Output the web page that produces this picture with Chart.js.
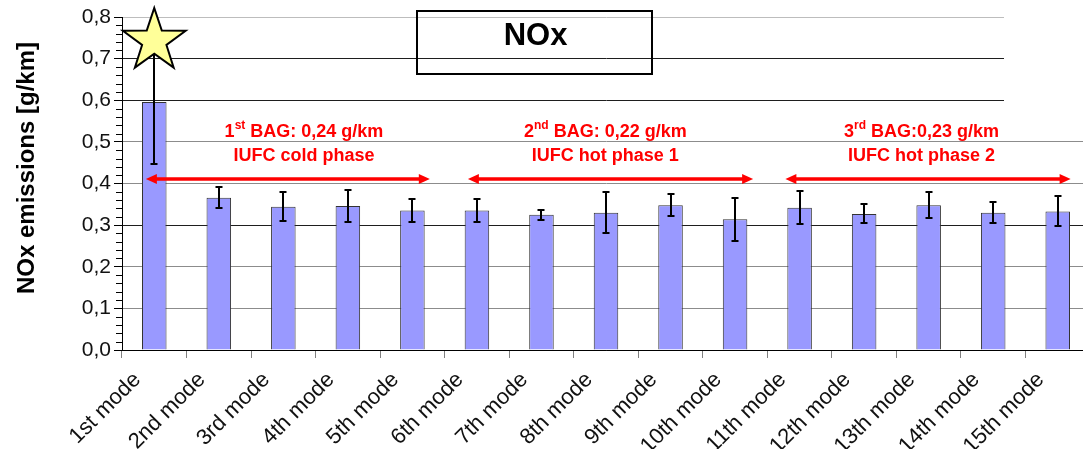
<!DOCTYPE html>
<html>
<head>
<meta charset="utf-8">
<script src="https://cdn.jsdelivr.net/npm/chart.js@4/dist/chart.umd.min.js"></script>
<style>
html,body{margin:0;padding:0;background:#fff;overflow:hidden;}
canvas{display:block;}
</style>
</head>
<body>
<canvas id="c" width="1091" height="449"></canvas>
<script>
// ---- data ----
const categories = ["1st mode","2nd mode","3rd mode","4th mode","5th mode","6th mode","7th mode","8th mode",
  "9th mode","10th mode","11th mode","12th mode","13th mode","14th mode","15th mode"];
const noxValues = [0.596,0.366,0.344,0.346,0.335,0.335,0.325,0.330,0.348,0.314,0.342,0.327,0.348,0.330,0.333];
const noxErrors = [0.150,0.026,0.035,0.038,0.028,0.027,0.012,0.049,0.026,0.051,0.039,0.023,0.031,0.026,0.036];
const yMin = 0, yMax = 0.8, yStep = 0.1, yMinorStep = 0.02;
const chartTitle = "NOx";
const yAxisTitle = "NOx emissions [g/km]";
const bagNums = ["1","2","3"];
const bagSups = ["st","nd","rd"];
const bagRests = [" BAG: 0,24 g/km"," BAG: 0,22 g/km"," BAG:0,23 g/km"];
const phaseNames = ["IUFC cold phase","IUFC hot phase 1","IUFC hot phase 2"];
// annotation anchors in axis units (category index / y value)
const phaseSpans = [[-0.13,4.27],[4.86,9.28],[9.78,14.2]];
const phaseTextCenters = [2.32,6.99,11.89];
const arrowLevel = 0.41;
const textLine1Level = 0.511, textLine2Level = 0.4536;
const titleBox = {x0:4.07, x1:7.71, y0:0.8144, y1:0.663};

const FONT = '"Liberation Sans", Arial, sans-serif';

function gridColor(v){
  const k = Math.round(v*10);
  if (k===0) return '#000';
  if (k===8) return '#bdbdbd';
  if (k===7 || k===6 || k===3) return '#1e1e1e';
  return '#8c8c8c';
}

function drawStar(ctx, cx, cy, R, r){
  ctx.beginPath();
  for (let i=0;i<10;i++){
    const ang = -Math.PI/2 + i*Math.PI/5;
    const rad = (i%2===0)?R:r;
    const px = cx + rad*Math.cos(ang), py = cy + rad*Math.sin(ang);
    if (i===0) ctx.moveTo(px,py); else ctx.lineTo(px,py);
  }
  ctx.closePath();
  ctx.fillStyle = '#ffff99';
  ctx.fill();
  ctx.lineWidth = 2;
  ctx.strokeStyle = '#000';
  ctx.lineJoin = 'miter';
  ctx.stroke();
}

function drawArrow(ctx, xa, xb, yy){
  const hl = 11, hw = 5;
  ctx.strokeStyle = '#ff0000';
  ctx.fillStyle = '#ff0000';
  ctx.lineWidth = 3.5;
  ctx.beginPath();
  ctx.moveTo(xa+hl-1, yy); ctx.lineTo(xb-hl+1, yy); ctx.stroke();
  ctx.beginPath();
  ctx.moveTo(xa, yy); ctx.lineTo(xa+hl, yy-hw); ctx.lineTo(xa+hl, yy+hw); ctx.closePath(); ctx.fill();
  ctx.beginPath();
  ctx.moveTo(xb, yy); ctx.lineTo(xb-hl, yy-hw); ctx.lineTo(xb-hl, yy+hw); ctx.closePath(); ctx.fill();
}

const overlay = {
  id: 'overlay',
  beforeDraw(chart){
    const ctx = chart.ctx;
    ctx.save();
    ctx.fillStyle = '#fff';
    ctx.fillRect(0,0,chart.width,chart.height);
    ctx.restore();
  },
  afterDatasetsDraw(chart){
    const ctx = chart.ctx;
    const x = chart.scales.x, y = chart.scales.y;
    ctx.save();
    // minor ticks on y axis
    ctx.strokeStyle = '#000'; ctx.lineWidth = 1;
    const nMinor = Math.round((yMax-yMin)/yMinorStep);
    for (let i=0;i<=nMinor;i++){
      if (i%5===0) continue;
      const py = Math.round(y.getPixelForValue(yMin+i*yMinorStep))+0.5;
      ctx.beginPath(); ctx.moveTo(x.left-6, py); ctx.lineTo(x.left, py); ctx.stroke();
    }
    // error bars
    ctx.strokeStyle = '#000'; ctx.lineWidth = 2;
    noxValues.forEach((v,i)=>{
      const px = Math.round(x.getPixelForValue(i));
      const t = Math.round(y.getPixelForValue(v+noxErrors[i]));
      const b = Math.round(y.getPixelForValue(v-noxErrors[i]));
      ctx.beginPath();
      ctx.moveTo(px, t); ctx.lineTo(px, b);
      ctx.moveTo(px-3.5, t); ctx.lineTo(px+3.5, t);
      ctx.moveTo(px-3.5, b); ctx.lineTo(px+3.5, b);
      ctx.stroke();
    });
    // star on the highest point
    const sx = x.getPixelForValue(0), sy = y.getPixelForValue(noxValues[0]+noxErrors[0]) + 1.5;
    drawStar(ctx, sx, sy, 33, 12.8);
    // arrows
    const ay = Math.round(y.getPixelForValue(arrowLevel));
    phaseSpans.forEach(s=>drawArrow(ctx, x.getPixelForValue(s[0]), x.getPixelForValue(s[1]), ay));
    // phase texts
    ctx.fillStyle = '#ff0000';
    ctx.textBaseline = 'alphabetic';
    const mainFont = 'bold 18px ' + FONT, supFont = 'bold 12px ' + FONT;
    const b1 = y.getPixelForValue(textLine1Level), b2 = y.getPixelForValue(textLine2Level);
    phaseTextCenters.forEach((c,i)=>{
      const cx = x.getPixelForValue(c);
      ctx.font = mainFont;
      const wn = ctx.measureText(bagNums[i]).width, wr = ctx.measureText(bagRests[i]).width;
      ctx.font = supFont;
      const ws = ctx.measureText(bagSups[i]).width;
      let sx0 = cx - (wn+ws+wr)/2;
      ctx.textAlign = 'left';
      ctx.font = mainFont; ctx.fillText(bagNums[i], sx0, b1);
      ctx.font = supFont; ctx.fillText(bagSups[i], sx0+wn, b1-8);
      ctx.font = mainFont; ctx.fillText(bagRests[i], sx0+wn+ws, b1);
      ctx.textAlign = 'center';
      ctx.fillText(phaseNames[i], cx, b2);
    });
    // title box
    const tx0 = Math.round(x.getPixelForValue(titleBox.x0)), tx1 = Math.round(x.getPixelForValue(titleBox.x1));
    const ty0 = Math.round(y.getPixelForValue(titleBox.y0)), ty1 = Math.round(y.getPixelForValue(titleBox.y1));
    ctx.strokeStyle = '#000'; ctx.lineWidth = 2;
    ctx.strokeRect(tx0, ty0, tx1-tx0, ty1-ty0);
    ctx.fillStyle = '#000';
    ctx.font = 'bold 31px ' + FONT;
    ctx.textAlign = 'center'; ctx.textBaseline = 'alphabetic';
    ctx.fillText(chartTitle, (tx0+tx1)/2 + 1, ty0 + 34);
    // y axis title
    ctx.save();
    ctx.translate(34, 168);
    ctx.rotate(-Math.PI/2);
    ctx.font = 'bold 24px ' + FONT;
    ctx.textAlign = 'center';
    ctx.fillText(yAxisTitle, 0, 0);
    ctx.restore();
    // white area top-right (neighbouring picture)
    ctx.fillStyle = '#fff';
    ctx.fillRect(1004, 0, chart.width-1004, 122);
    ctx.restore();
  }
};

new Chart(document.getElementById('c'), {
  type: 'bar',
  data: {
    labels: categories,
    datasets: [{
      data: noxValues,
      backgroundColor: '#9999ff',
      borderColor: '#333',
      borderWidth: 1,
      barPercentage: 0.38,
      categoryPercentage: 1
    }]
  },
  options: {
    responsive: false,
    animation: false,
    devicePixelRatio: 1,
    layout: { padding: { top: 17, right: 1, left: 0, bottom: 0 } },
    plugins: { legend: { display: false }, tooltip: { enabled: false } },
    scales: {
      x: {
        type: 'category',
        offset: true,
        grid: { offset: true, drawOnChartArea: false, drawTicks: true, tickLength: 8, color: '#808080' },
        border: { color: '#000', width: 1 },
        ticks: {
          autoSkip: false, minRotation: 45, maxRotation: 45,
          font: { family: FONT, size: 22 }, color: '#111',
          padding: 9, labelOffset: -17
        },
        afterFit(s){ s.height = 99; }
      },
      y: {
        min: yMin, max: yMax,
        ticks: {
          stepSize: yStep,
          font: { family: FONT, size: 21 }, color: '#111', padding: 3,
          callback: v => Number(v).toFixed(1).replace('.', ',')
        },
        grid: { color: c => gridColor(c.tick ? c.tick.value : 0), tickColor: '#000', tickLength: 8, lineWidth: 1 },
        border: { color: '#000', width: 1 },
        afterFit(s){ s.width = 122; }
      }
    }
  },
  plugins: [overlay]
});
</script>
</body>
</html>
